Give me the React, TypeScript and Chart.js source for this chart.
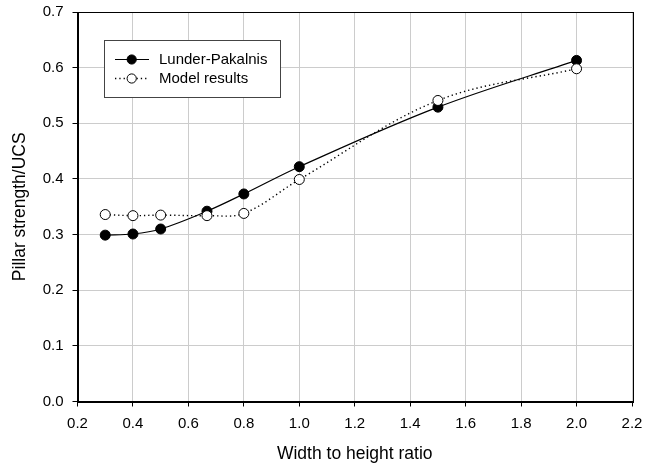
import { useEffect, useRef } from "react";
import { Chart, registerables } from "chart.js";

Chart.register(...registerables);

const ratios = [0.3, 0.4, 0.5, 0.667, 0.8, 1.0, 1.5, 2.0];
const lunderPakalnis = [0.299, 0.301, 0.31, 0.342, 0.373, 0.422, 0.529, 0.613];
const modelResults = [0.336, 0.334, 0.335, 0.334, 0.338, 0.399, 0.541, 0.598];
const seriesNames = ["Lunder-Pakalnis", "Model results"];
const xTitle = "Width to height ratio";
const yTitle = "Pillar strength/UCS";

const FONT = "'Liberation Sans', Arial, sans-serif";

const framePlugin = {
  id: "frame",
  afterDraw(chart: any) {
    const { ctx, chartArea } = chart;
    ctx.save();
    ctx.strokeStyle = "#000";
    ctx.lineWidth = 1;
    ctx.strokeRect(
      Math.round(chartArea.left) + 0.5,
      Math.round(chartArea.top) + 0.5,
      Math.round(chartArea.right - chartArea.left),
      Math.round(chartArea.bottom - chartArea.top)
    );
    ctx.restore();
  },
};

const legendPlugin = {
  id: "boxLegend",
  afterDraw(chart: any) {
    const { ctx } = chart;
    const x = 104.5, y = 40.5, w = 176, h = 57;
    ctx.save();
    ctx.fillStyle = "#fff";
    ctx.fillRect(x, y, w, h);
    ctx.strokeStyle = "#444";
    ctx.lineWidth = 1;
    ctx.strokeRect(x, y, w, h);
    const rows = [59.5, 78.5];
    rows.forEach((ry, i) => {
      ctx.beginPath();
      ctx.strokeStyle = "#000";
      ctx.lineWidth = i === 0 ? 1 : 1.3;
      ctx.setLineDash(i === 0 ? [] : [1.3, 3]);
      ctx.moveTo(115, ry);
      ctx.lineTo(149, ry);
      ctx.stroke();
      ctx.setLineDash([]);
      ctx.beginPath();
      ctx.arc(131.7, ry, 4.6, 0, Math.PI * 2);
      ctx.fillStyle = i === 0 ? "#000" : "#fff";
      ctx.fill();
      ctx.lineWidth = 1;
      ctx.stroke();
      ctx.fillStyle = "#000";
      ctx.font = `15px ${FONT}`;
      ctx.textBaseline = "middle";
      ctx.textAlign = "left";
      ctx.fillText(seriesNames[i], 159, ry + 0.5);
    });
    ctx.restore();
  },
};

export default function App() {
  const ref = useRef<HTMLCanvasElement | null>(null);
  useEffect(() => {
    if (!ref.current) return;
    const chart = new Chart(ref.current, {
      type: "line",
      data: {
        datasets: [
          {
            label: seriesNames[0],
            data: ratios.map((r, i) => ({ x: r, y: lunderPakalnis[i] })),
            borderColor: "#000",
            borderWidth: 1.2,
            backgroundColor: "#000",
            pointBackgroundColor: "#000",
            pointBorderColor: "#000",
            pointRadius: 5,
            pointBorderWidth: 1,
            tension: 0.35,
            order: 1,
          },
          {
            label: seriesNames[1],
            data: ratios.map((r, i) => ({ x: r, y: modelResults[i] })),
            borderColor: "#000",
            borderWidth: 1.4,
            borderDash: [1.3, 3],
            backgroundColor: "#fff",
            pointBackgroundColor: "#fff",
            pointBorderColor: "#000",
            pointRadius: 5,
            pointBorderWidth: 1,
            tension: 0.35,
            order: 0,
          },
        ],
      },
      options: {
        responsive: false,
        animation: false,
        layout: { padding: { left: 0, top: 12, right: 20, bottom: 0 } },
        plugins: { legend: { display: false }, tooltip: { enabled: false } },
        scales: {
          x: {
            type: "linear",
            min: 0.2,
            max: 2.2,
            afterFit: (s: any) => {
              s.height = 65.5;
              s.paddingLeft = 0;
              s.paddingRight = 0;
            },
            ticks: {
              stepSize: 0.2,
              color: "#000",
              padding: 8,
              font: { family: FONT, size: 15 },
              callback: (v: any) => Number(v).toFixed(1),
            },
            grid: { color: "#cccccc", tickColor: "#000", tickLength: 5, lineWidth: 1 },
            border: { color: "#000" },
            title: {
              display: true,
              text: xTitle,
              color: "#000",
              font: { family: FONT, size: 17.5 },
              padding: { top: 0, bottom: 2 },
            },
          },
          y: {
            min: 0,
            max: 0.7,
            afterFit: (s: any) => {
              s.width = 77.5;
              s.paddingTop = 0;
              s.paddingBottom = 0;
            },
            ticks: {
              stepSize: 0.1,
              color: "#000",
              padding: 9,
              font: { family: FONT, size: 15 },
              callback: (v: any) => Number(v).toFixed(1),
            },
            grid: { color: "#cccccc", tickColor: "#000", tickLength: 5, lineWidth: 1 },
            border: { color: "#000" },
            title: {
              display: true,
              text: yTitle,
              color: "#000",
              font: { family: FONT, size: 17.5 },
              padding: { top: 10, bottom: 0 },
            },
          },
        },
      },
      plugins: [framePlugin, legendPlugin],
    });
    return () => chart.destroy();
  }, []);
  return (
    <div style={{ position: "absolute", left: 0, top: 0, width: 652, height: 467, background: "#fff" }}>
      <canvas ref={ref} width={652} height={467} style={{ width: 652, height: 467, display: "block" }} />
    </div>
  );
}
